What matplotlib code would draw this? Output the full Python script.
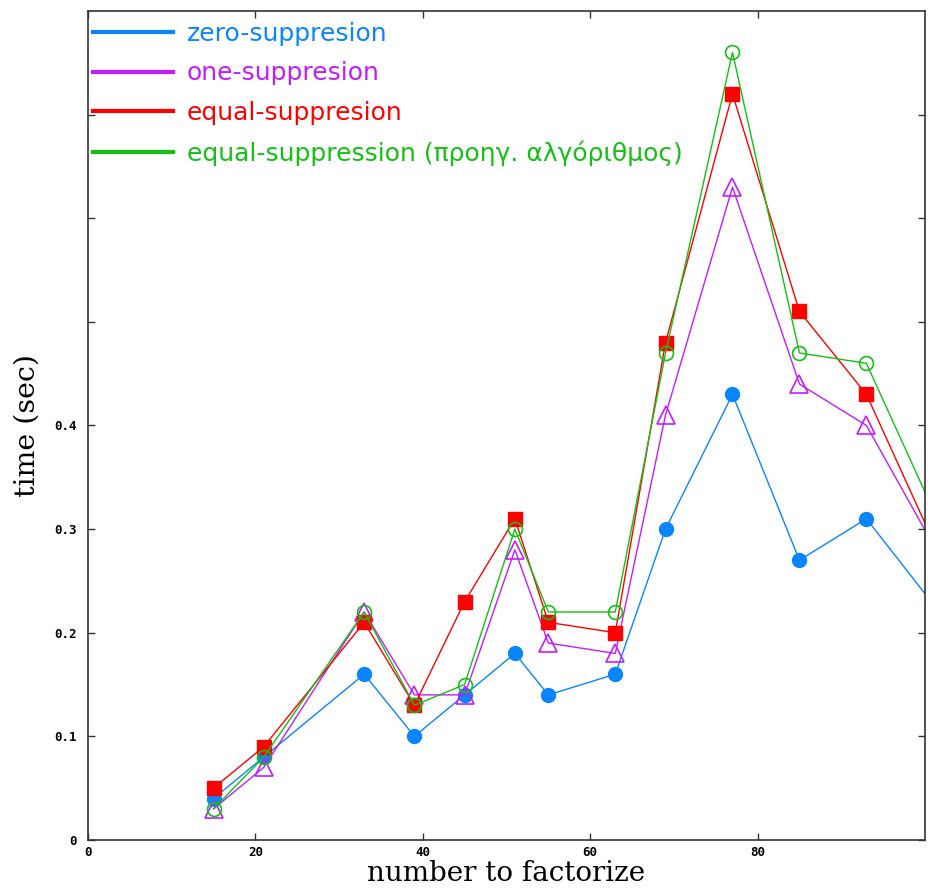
import numpy as np
import matplotlib
matplotlib.use("Agg")
import matplotlib.pyplot as plt
from matplotlib.lines import Line2D

# numbers to factorize (last point lies past the right edge)
x = [15, 21, 33, 39, 45, 51, 55, 63, 69, 77, 85, 93, 105]

zero_sup = [0.04, 0.08, 0.16, 0.10, 0.14, 0.18, 0.14, 0.16, 0.30, 0.43, 0.27, 0.31, 0.186]
one_sup = [0.03, 0.07, 0.22, 0.14, 0.14, 0.28, 0.19, 0.18, 0.41, 0.63, 0.44, 0.40, 0.227]
equal_sup = [0.05, 0.09, 0.21, 0.13, 0.23, 0.31, 0.21, 0.20, 0.48, 0.72, 0.51, 0.43, 0.217]
equal_old = [0.03, 0.08, 0.22, 0.13, 0.15, 0.30, 0.22, 0.22, 0.47, 0.76, 0.47, 0.46, 0.247]

labels = ["zero-suppresion", "one-suppresion", "equal-suppresion",
          "equal-suppression (προηγ. αλγόριθμος)"]
colors = ["#0a84ff", "#c21cff", "#ff0000", "#14c014"]

fig = plt.figure(figsize=(9.29, 8.93), dpi=100)
ax = fig.add_axes([0.0947, 0.0594, 0.9010, 0.9283])

ax.plot(x, zero_sup, color=colors[0], lw=1, marker="o", ms=10, mfc=colors[0], mec=colors[0])
ax.plot(x, one_sup, color=colors[1], lw=1, marker="^", ms=13, mfc="none", mec=colors[1], mew=1.2)
ax.plot(x, equal_sup, color=colors[2], lw=1, marker="s", ms=10.5, mfc=colors[2], mec=colors[2])
ax.plot(x, equal_old, color=colors[3], lw=1, marker="o", ms=10, mfc="none", mec=colors[3], mew=1.2)

ax.set_xlim(0, 100)
ax.set_ylim(0, 0.8)
ax.set_xticks([0, 20, 40, 60, 80])
ax.set_yticks([0, 0.1, 0.2, 0.3, 0.4, 0.5, 0.6, 0.7])
ax.set_yticklabels(["0", "0.1", "0.2", "0.3", "0.4", "", "", ""])
ax.tick_params(direction="in", top=True, right=True, length=5, width=1, color="#333333", pad=8)
ax.tick_params(axis="x", pad=4)
for lab in ax.get_xticklabels() + ax.get_yticklabels():
    lab.set_family("DejaVu Sans Mono")
    lab.set_fontweight("bold")
    lab.set_fontsize(9)
for s in ax.spines.values():
    s.set_color("#333333")
    s.set_linewidth(1.2)

ax.set_xlabel("number to factorize", family="DejaVu Serif", fontsize=20, labelpad=1)
ax.set_ylabel("time (sec)", family="DejaVu Serif", fontsize=20.5, labelpad=10)

handles = [Line2D([0], [0], color=c, lw=3) for c in colors]
leg = ax.legend(handles, labels, loc="upper left", frameon=False, fontsize=18,
                handlelength=3.2, handletextpad=0.55, labelspacing=0.62,
                borderpad=0.2, borderaxespad=0.0, bbox_to_anchor=(0.0, 0.993))
for t, c in zip(leg.get_texts(), colors):
    t.set_color(c)

fig.savefig("out.png", dpi=100)
